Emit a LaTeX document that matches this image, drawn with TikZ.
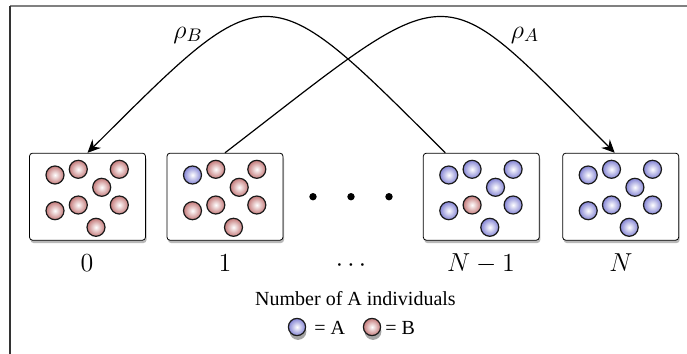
\RequirePackage{fix-cm}
\documentclass[tikz,border=0pt]{standalone}
\usepackage{fontspec}
\setmainfont{Liberation Serif}
\usetikzlibrary{calc,shadows,arrows.meta}

\definecolor{ballred}{RGB}{196,122,122}
\definecolor{ballblue}{RGB}{132,132,212}

% eight balls in a box: #1 box, #2 colour, #3 number of the odd ball, #4 its colour
\newcommand{\popballs}[4]{%
  \foreach \dx/\dy [count=\k] in {-32.5/-21.7,-9.2/-27.4,31.8/-27.4,14.2/-9.4,-32.5/14,-9.2/8.3,31.8/8.3,8.5/30.6}{
    \ifnum\k=#3\relax \def\bc{#4}\else \def\bc{#2}\fi
    \shade[inner color=white, outer color=\bc, draw=black!90, line width=0.6pt]
      ($(#1.center)+(\dx,\dy)$) circle (4.5pt);
  }}

\begin{document}
\begin{tikzpicture}[x=0.5pt,y=-0.5pt]
	\tikzset{>={Stealth[length=6.5pt,width=6pt,inset=2.2pt]}}
	\tikzset{
		popbox/.style={draw, fill=white, rounded corners=1.5pt, minimum width=58pt,
			minimum height=43.5pt, inner sep=0pt,
			drop shadow={shadow xshift=0.5pt, shadow yshift=-1.4pt, fill=black!50, opacity=0.55}},
		numlbl/.style={font=\fontsize{13}{15}\selectfont, inner sep=0pt, anchor=base},
		txt/.style={font=\fontsize{10}{12}\selectfont, inner sep=0pt}
	}
	\useasboundingbox (0,0) rectangle (687,354);
	
	% frame
	\draw[black!50, line width=1pt] (10,6) -- (687,6);
	\draw[black!80, line width=0.75pt] (10,6) -- (10,354);
	
	% populations
	\node[popbox] (box0) at (87.5,196.7) {};
	\node[popbox] (box1) at (225,196.7) {};
	\node[popbox] (boxNm1) at (481.3,196.7) {};
	\node[popbox] (boxN) at (620.7,196.7) {};
	
	\popballs{box0}{ballred}{0}{ballred}
	\popballs{box1}{ballred}{1}{ballblue}
	\popballs{boxNm1}{ballblue}{6}{ballred}
	\popballs{boxN}{ballblue}{0}{ballblue}
	
	\foreach \x in {313,351,389}
		\fill (\x,196.7) circle (1.85pt);
	
	% labels
	\node[numlbl] (l0) at (87,271.5) {$0$};
	\node[numlbl] (l1) at (225,271.5) {$1$};
	\node[numlbl] (ldots) at (351,271.5) {$\cdots$};
	\node[numlbl] (lNm1) at (481,271.5) {$N-1$};
	\node[numlbl] (lN) at (621,271.5) {$N$};
	
	% fixation
	\coordinate (fromNm1) at ($(boxNm1.north)+(-36,0)$);
	\coordinate (toN) at ($(boxN.north)+(-6,0)$);
	\draw[semithick,->] (fromNm1) .. controls (264,-28) and (269,-28) .. (box0.north);
	\draw[semithick,->] (box1.north) .. controls (460,-28) and (434,-28) .. (toN);
	\node[numlbl] (rhoB) at (188,38) {$\rho_B$};
	\node[numlbl] (rhoA) at (525,38) {$\rho_A$};
	
	% legend
	\node[txt, anchor=base] (caption) at (355.5,305) {Number of A individuals};
	\fill[black!70, opacity=0.5] (298,331.5) circle (4.2pt);
	\fill[black!70, opacity=0.5] (373,331.5) circle (4.2pt);
	\shade[inner color=white, outer color=ballblue, draw=black!90, line width=0.6pt] (297,327) circle (4.3pt);
	\shade[inner color=white, outer color=ballred, draw=black!90, line width=0.6pt] (372,327) circle (4.3pt);
	\node[txt, anchor=base west] (keyA) at (314,334) {= A};
	\node[txt, anchor=base west] (keyB) at (385,334) {= B};
	
\end{tikzpicture}
\end{document}
